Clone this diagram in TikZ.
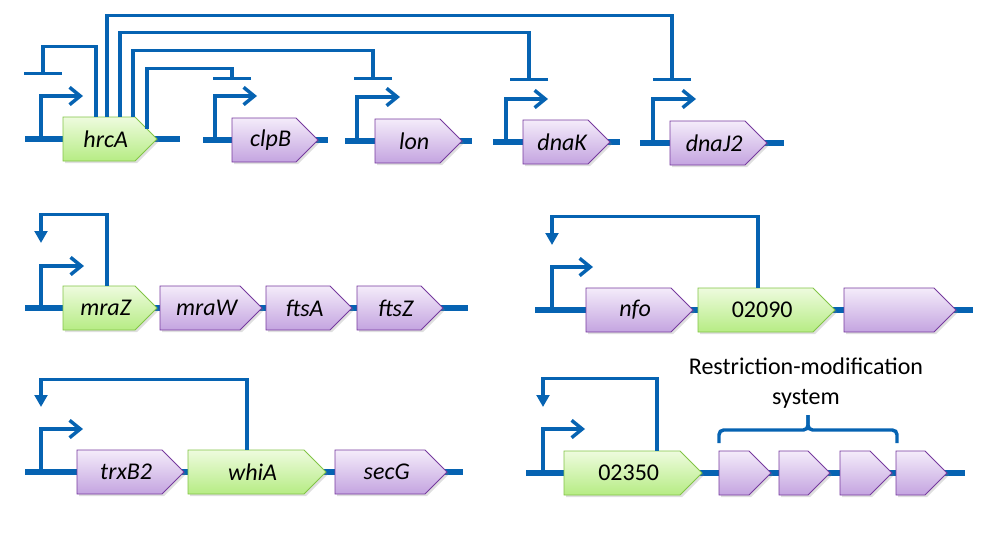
\documentclass[tikz,border=0pt]{standalone}
\usepackage{fontspec}
\setmainfont{Carlito}
\usetikzlibrary{shapes.symbols,arrows.meta,calc,shadows}
\definecolor{dnablue}{RGB}{6,99,178}
\definecolor{gtop}{RGB}{238,251,222}
\definecolor{gbot}{RGB}{182,236,132}
\definecolor{gline}{RGB}{130,196,70}
\definecolor{ptop}{RGB}{244,236,250}
\definecolor{pbot}{RGB}{196,164,224}
\definecolor{pline}{RGB}{118,58,158}
\newcommand\gl[1]{\hspace*{10pt}#1}
\tikzset{
  x=0.75pt, y=-0.75pt,
  backbone/.style={draw=dnablue, line width=5pt},
  promoter/.style={draw=dnablue, line width=2.6pt, -{Straight Barb[length=8pt,width=13pt,line width=2.6pt]}},
  repress/.style={draw=dnablue, line width=2.6pt, -{Bar[width=28.5pt,line width=2.6pt]}},
  selfloop/.style={draw=dnablue, line width=2.6pt, -{Triangle[length=9pt,width=9.5pt]}},
  genebase/.style={shape=signal, signal to=east, signal pointer angle=90, inner sep=0pt,
     minimum height=33pt, font=\fontsize{18}{22}\selectfont\itshape, line width=0.6pt,
     drop shadow={opacity=0.25, shadow xshift=1.5pt, shadow yshift=-1.5pt}},
  greengene/.style={genebase, draw=gline, top color=gtop, bottom color=gbot, minimum width=#1*0.75pt},
  purplegene/.style={genebase, draw=pline, top color=ptop, bottom color=pbot, minimum width=#1*0.75pt},
}
\begin{document}
\begin{tikzpicture}
\useasboundingbox (0,0) rectangle (991,535);
% ---------- backbones ----------
\coordinate (b1s) at (25,139);  \coordinate (b1e) at (180,139);
\coordinate (b2s) at (203,140); \coordinate (b2e) at (328,140);
\coordinate (b3s) at (345,141); \coordinate (b3e) at (472,141);
\coordinate (b4s) at (493,142); \coordinate (b4e) at (620,142);
\coordinate (b5s) at (640,143); \coordinate (b5e) at (784,143);
\coordinate (b6s) at (25,308);  \coordinate (b6e) at (468,308);
\coordinate (b7s) at (535,310); \coordinate (b7e) at (973,310);
\coordinate (b8s) at (25,472);  \coordinate (b8e) at (463,472);
\coordinate (b9s) at (526,473); \coordinate (b9e) at (965,473);
\foreach \i in {1,...,9} \draw[backbone] (b\i s) -- (b\i e);
% ---------- promoters ----------
\coordinate (p1) at (41,139);  \coordinate (p1t) at (83,96);
\coordinate (p2) at (215,140); \coordinate (p2t) at (257,96);
\coordinate (p3) at (357,141); \coordinate (p3t) at (400,97);
\coordinate (p4) at (506,142); \coordinate (p4t) at (548,99);
\coordinate (p5) at (653,143); \coordinate (p5t) at (696,99);
\coordinate (p6) at (41,308);  \coordinate (p6t) at (84,266);
\coordinate (p7) at (552,310); \coordinate (p7t) at (593,267);
\coordinate (p8) at (41,472);  \coordinate (p8t) at (83,429);
\coordinate (p9) at (543,473); \coordinate (p9t) at (585,429);
\foreach \i in {1,...,9} \draw[promoter] (p\i) |- (p\i t);
% ---------- genes (node centre = centre of the gene body) ----------
\node[greengene=94]  (hrcA)  at (99,139)    {\gl{hrcA}};
\node[purplegene=86] (clpB)  at (264,140)   {\gl{clpB}};
\node[purplegene=87] (lon)   at (407.5,141) {\gl{lon}};
\node[purplegene=87] (dnaK)  at (555.5,142) {\gl{dnaK}};
\node[purplegene=97] (dnaJ2) at (707.5,143) {\gl{dnaJ2}};
\node[greengene=94]  (mraZ)  at (99,308)    {\gl{mraZ}};
\node[purplegene=102] (mraW) at (200,308)   {\gl{mraW}};
\node[purplegene=86] (ftsA)  at (298,308)   {\gl{ftsA}};
\node[purplegene=86] (ftsZ)  at (389,308)   {\gl{ftsZ}};
\node[purplegene=107] (nfo)  at (628.5,310) {\gl{nfo}};
\node[greengene=137, font=\fontsize{18}{22}\selectfont] (g02090) at (755.5,310) {\gl{02090}};
\node[purplegene=112] (blank) at (889,310) {};
\node[purplegene=107] (trxB2) at (119.5,472) {\gl{trxB2}};
\node[greengene=138]  (whiA)  at (246,472)   {\gl{whiA}};
\node[purplegene=112] (secG)  at (380,472)   {\gl{secG}};
\node[greengene=138, font=\fontsize{18}{22}\selectfont] (g02350) at (622,473) {\gl{02350}};
\node[purplegene=52] (rm1) at (734,473) {};
\node[purplegene=51] (rm2) at (793.5,473) {};
\node[purplegene=52] (rm3) at (855,473) {};
\node[purplegene=51] (rm4) at (910.5,473) {};
% ---------- repression by HrcA ----------
\coordinate (t1) at (43,75);
\coordinate (t2) at (232,80);
\coordinate (t3) at (373,80);
\coordinate (t4) at (529,81);
\coordinate (t5) at (672,81);
\draw[repress] ($(hrcA.north)+(-3,0)$) -- ++(0,-70) -| (t1);
\draw[repress] ($(hrcA.north)+(8,0)$) -- ++(0,-101) -| (t5);
\draw[repress] ($(hrcA.north)+(21,0)$) -- ++(0,-84) -| (t4);
\draw[repress] ($(hrcA.north)+(34,0)$) -- ++(0,-66) -| (t3);
\draw[repress] ($(hrcA.north)+(48,12)$) -- ++(0,-60) -| (t2);
% ---------- autoregulation loops ----------
\coordinate (a6) at (41,243);
\coordinate (a7) at (552,245);
\coordinate (a8) at (41,407);
\coordinate (a9) at (543,407);
\draw[selfloop] ($(mraZ.north)+(8,0)$) -- ++(0,-71) -| (a6);
\draw[selfloop] ($(g02090.north)+(2.5,0)$) -- ++(0,-71) -| (a7);
\draw[selfloop] ($(whiA.north)+(1,0)$) -- ++(0,-70) -| (a8);
\draw[selfloop] ($(g02350.north)+(35,0)$) -- ++(0,-72) -| (a9);
% ---------- brace ----------
\coordinate (brl) at (719,443);
\coordinate (brr) at (897,443);
\coordinate (brm) at (808,430);
\coordinate (brt) at (808,415);
\draw[dnablue, line width=2.6pt, rounded corners=3.5pt] (brl) |- (brm) -- (brt);
\draw[dnablue, line width=2.6pt, rounded corners=3.5pt] (brt) -- (brm) -| (brr);
\node[align=center, font=\fontsize{18}{22.5}\selectfont, inner sep=0pt] (rmlabel) at (806,383)
  {Restriction-modification\\system};
\end{tikzpicture}
\end{document}
